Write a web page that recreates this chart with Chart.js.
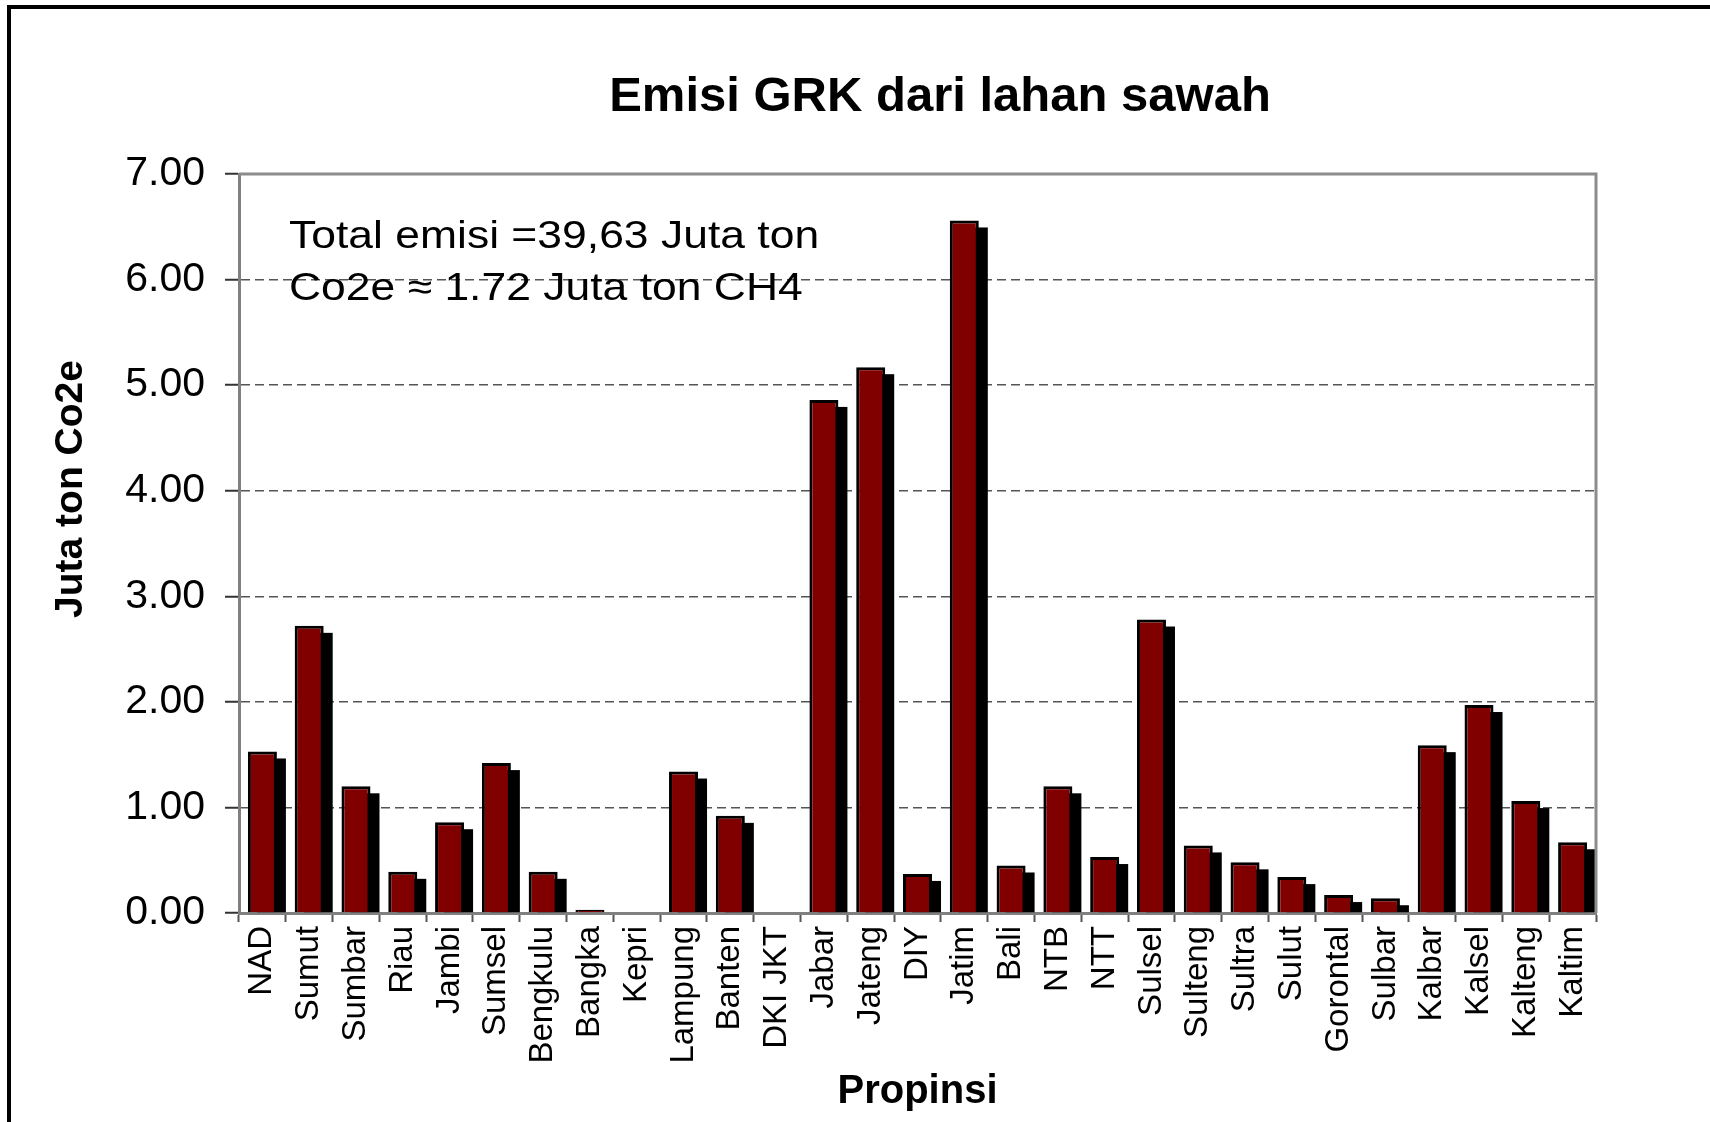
<!DOCTYPE html>
<html>
<head>
<meta charset="utf-8">
<title>Emisi GRK dari lahan sawah</title>
<script src="https://cdn.jsdelivr.net/npm/chart.js@4.4.1/dist/chart.umd.min.js"></script>
<style>
  html, body { margin: 0; padding: 0; background: #fff; }
  body { position: relative; width: 1710px; height: 1122px; overflow: hidden; }
  .frame {
    position: absolute; left: 7px; top: 5px; width: 1760px; height: 1160px;
    border-left: 4px solid #000; border-top: 4px solid #000;
  }
  #grkChart { position: absolute; left: 0; top: 0; }
</style>
</head>
<body>
<div class="frame"></div>
<canvas id="grkChart" width="1710" height="1122"></canvas>
<script>
/* Emisi GRK dari lahan sawah per propinsi (juta ton CO2e) */
const provinces = [
  'NAD', 'Sumut', 'Sumbar', 'Riau', 'Jambi', 'Sumsel', 'Bengkulu', 'Bangka', 'Kepri',
  'Lampung', 'Banten', 'DKI JKT', 'Jabar', 'Jateng', 'DIY', 'Jatim', 'Bali', 'NTB', 'NTT',
  'Sulsel', 'Sulteng', 'Sultra', 'Sulut', 'Gorontal', 'Sulbar', 'Kalbar', 'Kalsel', 'Kalteng', 'Kaltim'
];
const emissions = [
  1.53, 2.72, 1.20, 0.39, 0.86, 1.42, 0.39, 0.03, 0,
  1.34, 0.92, 0, 4.86, 5.17, 0.37, 6.56, 0.45, 1.20, 0.53,
  2.78, 0.64, 0.48, 0.34, 0.17, 0.14, 1.59, 1.97, 1.06, 0.67
];
const yRange = [0, 7];
const chartTitle = 'Emisi GRK dari lahan sawah';
const noteLines = ['Total emisi =39,63 Juta ton', 'Co2e \u2248 1.72 Juta ton CH4'];
const yTitle = 'Juta ton Co2e';
const xTitle = 'Propinsi';

const FONT = '"Liberation Sans", Arial, sans-serif';
Chart.defaults.font.family = FONT;
Chart.defaults.color = '#000';

// black "3D" shadow behind each bar, offset right/down
const barShadow = {
  id: 'barShadow',
  beforeDatasetsDraw(chart) {
    const ctx = chart.ctx;
    const dx = 9, dy = 7;
    ctx.save();
    ctx.fillStyle = '#000';
    chart.getDatasetMeta(0).data.forEach(bar => {
      const { x, y, base, width } = bar.getProps(['x', 'y', 'base', 'width'], true);
      const h = base - y - dy;
      if (h > 0) ctx.fillRect(x - width / 2 + dx, y + dy, width, h);
    });
    ctx.restore();
  }
};

// gray frame on top and right of the plot area
const plotFrame = {
  id: 'plotFrame',
  afterDatasetsDraw(chart) {
    const { ctx, chartArea: a } = chart;
    ctx.save();
    ctx.strokeStyle = '#8c8c8c';
    ctx.lineWidth = 3;
    ctx.beginPath();
    ctx.moveTo(a.left, a.top);
    ctx.lineTo(a.right, a.top);
    ctx.lineTo(a.right, a.bottom);
    ctx.stroke();
    ctx.restore();
  }
};

// title, note and y axis title
const texts = {
  id: 'texts',
  afterDraw(chart) {
    const ctx = chart.ctx;
    ctx.save();
    ctx.fillStyle = '#000';
    ctx.textBaseline = 'alphabetic';

    ctx.font = 'bold 49px ' + FONT;
    ctx.textAlign = 'center';
    ctx.fillText(chartTitle, 940, 111);

    ctx.save();
    ctx.translate(289, 248);
    ctx.scale(1.14, 1);
    ctx.font = '39px ' + FONT;
    ctx.textAlign = 'left';
    ctx.fillText(noteLines[0], 0, 0);
    ctx.fillText(noteLines[1], 0, 52);
    ctx.restore();

    ctx.save();
    ctx.translate(82, 489);
    ctx.rotate(-Math.PI / 2);
    ctx.font = 'bold 39px ' + FONT;
    ctx.textAlign = 'center';
    ctx.fillText(yTitle, 0, 0);
    ctx.restore();

    ctx.restore();
  }
};

new Chart(document.getElementById('grkChart').getContext('2d'), {
  type: 'bar',
  data: {
    labels: provinces,
    datasets: [{
      label: 'Emisi',
      data: emissions,
      backgroundColor: '#800000',
      borderColor: '#000',
      borderWidth: c => (c.raw > 0 ? 3 : 0),
      barPercentage: 0.62,
      categoryPercentage: 1.0
    }]
  },
  options: {
    responsive: false,
    animation: false,
    layout: { padding: { top: 174, right: 114, bottom: 0, left: 0 } },
    plugins: {
      legend: { display: false },
      tooltip: { enabled: false },
      title: { display: false }
    },
    scales: {
      x: {
        ticks: {
          autoSkip: false, minRotation: 90, maxRotation: 90,
          font: { size: 33 }, padding: 4
        },
        grid: {
          drawOnChartArea: false, offset: true,
          tickLength: 9, tickColor: '#555', tickWidth: 2
        },
        border: { color: '#808080', width: 3 },
        title: {
          display: true, text: xTitle,
          font: { size: 40, weight: 'bold' },
          padding: { top: 0, bottom: 6 }
        },
        afterFit(scale) { scale.height = 209; }
      },
      y: {
        min: yRange[0], max: yRange[1],
        ticks: {
          stepSize: 1,
          callback: v => v.toFixed(2),
          font: { size: 41 }, padding: 20
        },
        grid: {
          color: c => (c.tick && c.tick.value === yRange[1] ? 'rgba(0,0,0,0)' : '#555'),
          lineWidth: 1.5,
          tickLength: 14, tickColor: '#333', tickWidth: 2, tickBorderDash: []
        },
        // in v4 the grid line dash comes from border.dash; the axis line itself stays solid
        border: { color: '#808080', width: 3, dash: [9, 5] },
        afterFit(scale) { scale.width = 239; }
      }
    }
  },
  plugins: [barShadow, plotFrame, texts]
});
</script>
</body>
</html>
